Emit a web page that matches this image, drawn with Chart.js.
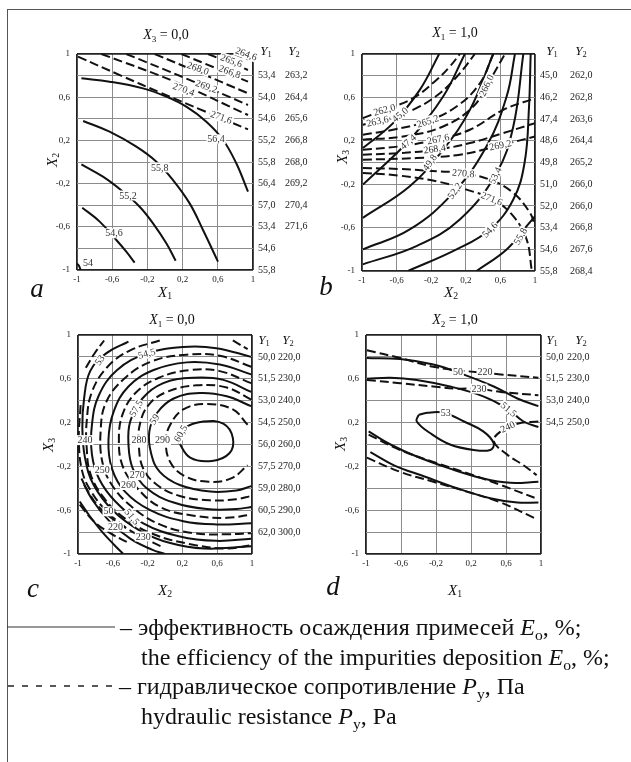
<!DOCTYPE html>
<html>
<head>
<meta charset="utf-8">
<script src="https://cdn.jsdelivr.net/npm/chart.js@4.4.0/dist/chart.umd.min.js"></script>
<style>
  body { margin: 0; background: #fff; font-family: "Liberation Serif", "Times New Roman", serif; color: #111; }
  #page { position: relative; width: 631px; height: 762px; overflow: hidden; }
  #frame { position: absolute; left: 7px; top: 9px; width: 700px; height: 800px;
           border-left: 1.5px solid #555; border-top: 1.5px solid #555; }
  canvas { position: absolute; }
  .t { position: absolute; white-space: nowrap; line-height: 1; }
  .c { transform: translate(-50%, -50%); }
  .l { transform: translate(0, -50%); }
  .r { transform: translate(-50%, -50%) rotate(-90deg); }
  .t i { font-style: italic; }
  .t sub { font-size: 65%; vertical-align: -0.3em; line-height: 0; }
  svg { position: absolute; left: 0; top: 0; }
</style>
</head>
<body>
<div id="page">
  <div id="frame"></div>
  <canvas id="pa"></canvas>
  <canvas id="pb"></canvas>
  <canvas id="pc"></canvas>
  <canvas id="pd"></canvas>
  <svg width="631" height="762">
    <line x1="7" y1="627" x2="115" y2="627" stroke="#333" stroke-width="1.2"/>
    <line x1="8" y1="686" x2="112" y2="686" stroke="#222" stroke-width="1.6" stroke-dasharray="6,8"/>
  </svg>
</div>
<script>
// shared tick texts (ascending order, as the library generates them)
const xTickText = ['-1', '-0,6', '-0,2', '0,2', '0,6', '1'];
const yTickText = ['-1', '', '-0,6', '', '-0,2', '', '0,2', '', '0,6', '', '1'];

// right-hand columns, rows from X = 1 (top) down to X = -1
const aY1 = ['', '53,4', '54,0', '54,6', '55,2', '55,8', '56,4', '57,0', '53,4', '54,6', '55,8'];
const aY2 = ['', '263,2', '264,4', '265,6', '266,8', '268,0', '269,2', '270,4', '271,6', '', ''];
const bY1 = ['', '45,0', '46,2', '47,4', '48,6', '49,8', '51,0', '52,0', '53,4', '54,6', '55,8'];
const bY2 = ['', '262,0', '262,8', '263,6', '264,4', '265,2', '266,0', '266,0', '266,8', '267,6', '268,4'];
const cY1 = ['', '50,0', '51,5', '53,0', '54,5', '56,0', '57,5', '59,0', '60,5', '62,0', ''];
const cY2 = ['', '220,0', '230,0', '240,0', '250,0', '260,0', '270,0', '280,0', '290,0', '300,0', ''];
const dY1 = ['', '50,0', '51,5', '53,0', '54,5', '', '', '', '', '', ''];
const dY2 = ['', '220,0', '230,0', '240,0', '250,0', '', '', '', '', '', ''];

// panel a: X3 = 0,0  (x = X1, y = X2)
const aSolid = [
  [[-0.95, 0.775], [-0.63, 0.744], [-0.25, 0.682], [0.015, 0.605], [0.242, 0.512], [0.47, 0.373], [0.66, 0.204], [0.81, -0.012], [0.943, -0.275]],
  [[-0.93, 0.38], [-0.63, 0.281], [-0.326, 0.142], [-0.098, 0.003], [0.091, -0.167], [0.28, -0.383], [0.432, -0.63], [0.602, -0.923]],
  [[-0.95, -0.022], [-0.705, -0.136], [-0.477, -0.275], [-0.288, -0.414], [-0.136, -0.568], [0.015, -0.753], [0.121, -0.914]],
  [[-0.94, -0.423], [-0.742, -0.552], [-0.553, -0.722], [-0.44, -0.83], [-0.345, -0.932]],
  [[-1, -0.94], [-0.975, -0.965], [-0.96, -1]]
];
const aDashed = [
  [[-0.989, 0.975], [-0.5, 0.8], [-0.061, 0.645], [0.45, 0.47], [0.943, 0.302]],
  [[-0.723, 1.0], [0.11, 0.744], [0.943, 0.435]],
  [[-0.44, 1.0], [0.25, 0.77], [0.943, 0.528]],
  [[-0.117, 1.0], [0.41, 0.82], [0.943, 0.636]],
  [[0.186, 1.0], [0.56, 0.875], [0.943, 0.744]],
  [[0.489, 1.0], [0.72, 0.925], [0.943, 0.852]],
  [[0.79, 1.0], [0.943, 0.95]]
];
const aLabels = [
  ['56,4', 0.58, 0.21, 0], ['55,8', -0.06, -0.05, 0], ['55,2', -0.42, -0.31, 0], ['54,6', -0.58, -0.66, 0], ['54', -0.875, -0.93, 0],
  ['271,6', 0.64, 0.414, 20], ['270,4', 0.212, 0.673, 20], ['269,2', 0.47, 0.70, 20], ['268,0', 0.375, 0.867, 20],
  ['266,8', 0.735, 0.836, 20], ['265,6', 0.754, 0.938, 20], ['264,6', 0.924, 1.0, 20]
];

// panel b: X1 = 1,0  (x = X2, y = X3)
const bSolid = [
  [[-0.99, 0.133], [-0.641, 0.363], [-0.332, 0.669], [-0.108, 1]],
  [[-0.99, -0.204], [-0.448, 0.21], [-0.062, 0.608], [0.189, 1]],
  [[-0.99, -0.51], [-0.448, -0.219], [-0.062, 0.118], [0.247, 0.485], [0.517, 1]],
  [[-0.99, -0.801], [-0.448, -0.617], [0.054, -0.28], [0.44, 0.149], [0.672, 0.608], [0.768, 1]],
  [[-0.99, -0.939], [-0.371, -0.77], [0.131, -0.525], [0.556, -0.096], [0.749, 0.332], [0.865, 1]],
  [[-0.467, -1], [0.093, -0.801], [0.479, -0.617], [0.749, -0.341], [0.88, 0.0], [0.93, 0.5], [0.95, 1]],
  [[0.324, -1], [0.672, -0.801], [0.903, -0.587], [1, -0.495]]
];
const bDashed = [
  [[-0.99, 0.409], [-0.718, 0.492], [-0.409, 0.593], [-0.139, 0.761], [0.015, 0.884], [0.131, 1]],
  [[-0.99, 0.348], [-0.68, 0.409], [-0.371, 0.501], [-0.1, 0.639], [0.131, 0.822], [0.305, 1]],
  [[-0.99, 0.256], [-0.641, 0.302], [-0.255, 0.378], [0.093, 0.516], [0.363, 0.73], [0.517, 1]],
  [[-0.99, 0.21], [-0.525, 0.24], [-0.062, 0.332], [0.286, 0.516], [0.479, 0.761], [0.653, 1]],
  [[-0.99, 0.118], [-0.564, 0.149], [-0.139, 0.21], [0.247, 0.302], [0.633, 0.485], [1, 0.593]],
  [[-0.99, 0.072], [-0.564, 0.087], [-0.139, 0.118], [0.247, 0.179], [0.633, 0.271], [1, 0.363]],
  [[-0.99, 0.026], [-0.371, 0.041], [0.131, 0.072], [0.556, 0.149], [1, 0.24]],
  [[-0.99, -0.051], [-0.564, -0.06], [-0.139, -0.081], [0.131, -0.096], [0.479, -0.158], [0.749, -0.28], [0.942, -0.464], [1, -0.587]],
  [[-0.99, -0.096], [-0.564, -0.121], [-0.139, -0.173], [0.208, -0.25], [0.517, -0.341], [0.749, -0.495], [0.903, -0.709], [0.961, -0.985]]
];
const bLabels = [
  ['45,0', -0.56, 0.44, -40], ['47,4', -0.467, 0.19, -40], ['49,8', -0.216, 0.0, -55], ['52,2', 0.073, -0.26, -55],
  ['53,4', 0.54, -0.12, -65], ['54,6', 0.479, -0.62, -45], ['55,8', 0.83, -0.68, -60],
  ['262,0', -0.74, 0.485, -15], ['263,6', -0.82, 0.38, -12], ['265,2', -0.24, 0.38, -18], ['266,0', 0.44, 0.71, -65],
  ['267,6', -0.12, 0.215, -12], ['268,4', -0.16, 0.125, -8], ['269,2', 0.6, 0.16, -12], ['270,8', 0.17, -0.10, 5], ['271,6', 0.5, -0.335, 22]
];

// panel c: X1 = 0,0  (x = X2, y = X3)
const cSolid = [
  [[0.15, 0.03], [0.23, 0.15], [0.44, 0.21], [0.67, 0.19], [0.78, 0.06], [0.74, -0.08], [0.54, -0.15], [0.29, -0.12], [0.15, 0.03]],
  [[0.99, 0.35], [0.71, 0.44], [0.40, 0.47], [0.10, 0.42], [-0.09, 0.29], [-0.18, 0.12], [-0.16, -0.08], [-0.06, -0.25], [0.17, -0.37], [0.52, -0.43], [0.82, -0.42], [0.99, -0.38]],
  [[0.99, 0.48], [0.67, 0.59], [0.33, 0.61], [-0.02, 0.56], [-0.26, 0.42], [-0.40, 0.21], [-0.42, 0.0], [-0.37, -0.22], [-0.21, -0.40], [0.10, -0.53], [0.48, -0.59], [0.82, -0.59], [0.99, -0.57]],
  [[0.99, 0.64], [0.63, 0.73], [0.25, 0.75], [-0.13, 0.68], [-0.42, 0.53], [-0.59, 0.30], [-0.65, 0.04], [-0.61, -0.22], [-0.46, -0.43], [-0.17, -0.60], [0.21, -0.70], [0.59, -0.73], [0.99, -0.72]],
  [[0.99, 0.80], [0.59, 0.88], [0.21, 0.89], [-0.21, 0.83], [-0.55, 0.68], [-0.76, 0.45], [-0.84, 0.18], [-0.84, -0.09], [-0.76, -0.31], [-0.57, -0.52], [-0.25, -0.72], [0.17, -0.84], [0.59, -0.88], [0.99, -0.86]],
  [[-0.42, 0.94], [-0.68, 0.83], [-0.86, 0.67], [-0.93, 0.42], [-0.95, 0.15], [-0.92, -0.12], [-0.82, -0.37], [-0.59, -0.61], [-0.28, -0.79], [0.06, -0.90], [0.45, -0.95], [0.99, -0.93]],
  [[-0.96, -0.31], [-0.84, -0.50], [-0.64, -0.70], [-0.40, -0.86], [-0.15, -0.96], [0.0, -1.0]],
  [[-0.98, -0.52], [-0.86, -0.66], [-0.72, -0.80], [-0.58, -0.92], [-0.48, -1.0]]
];
const cDashed = [
  [[0.95, 0.18], [0.78, 0.32], [0.48, 0.37], [0.21, 0.32], [0.06, 0.18], [0.01, 0.03], [0.06, -0.16], [0.23, -0.29], [0.50, -0.34], [0.76, -0.31], [0.95, -0.19]],
  [[0.99, 0.41], [0.71, 0.52], [0.36, 0.54], [0.02, 0.48], [-0.19, 0.36], [-0.29, 0.18], [-0.30, -0.02], [-0.25, -0.22], [-0.09, -0.37], [0.17, -0.47], [0.52, -0.51], [0.82, -0.50], [0.99, -0.47]],
  [[0.99, 0.56], [0.63, 0.67], [0.29, 0.68], [-0.07, 0.61], [-0.34, 0.47], [-0.49, 0.27], [-0.53, 0.04], [-0.49, -0.19], [-0.34, -0.38], [-0.06, -0.57], [0.33, -0.65], [0.71, -0.67], [0.99, -0.64]],
  [[0.99, 0.71], [0.63, 0.81], [0.25, 0.82], [-0.15, 0.76], [-0.47, 0.60], [-0.68, 0.38], [-0.74, 0.12], [-0.72, -0.16], [-0.61, -0.37], [-0.38, -0.57], [-0.06, -0.73], [0.33, -0.81], [0.71, -0.82], [0.99, -0.81]],
  [[-0.06, 0.95], [-0.40, 0.86], [-0.66, 0.71], [-0.84, 0.48], [-0.90, 0.21], [-0.90, -0.03], [-0.86, -0.26], [-0.72, -0.47], [-0.47, -0.67], [-0.13, -0.82], [0.29, -0.91], [0.71, -0.95], [0.99, -0.92]],
  [[-0.97, 0.36], [-0.99, 0.04], [-0.95, -0.25], [-0.84, -0.44], [-0.66, -0.62], [-0.45, -0.76]],
  [[-0.93, -0.37], [-0.76, -0.57], [-0.51, -0.73], [-0.25, -0.85], [-0.02, -0.94]],
  [[-0.98, -0.55], [-0.82, -0.70], [-0.63, -0.81], [-0.44, -0.89]],
  [[-0.91, 0.70], [-0.82, 0.82], [-0.70, 0.95]],
  [[0.78, 0.95], [0.95, 0.87]]
];
const cLabels = [
  ['53', -0.75, 0.77, -55], ['54,5', -0.21, 0.83, -15], ['57,5', -0.33, 0.33, -60], ['59', -0.12, 0.23, -55], ['60,5', 0.18, 0.10, -60],
  ['240', -0.92, 0.04, 0], ['280', -0.30, 0.04, 0], ['290', -0.03, 0.04, 0], ['250', -0.72, -0.23, 0], ['270', -0.32, -0.28, 0],
  ['260', -0.42, -0.37, 0], ['50', -0.65, -0.61, 0], ['51,5', -0.38, -0.66, 50], ['220', -0.57, -0.75, 0], ['230', -0.25, -0.84, 0]
];

// panel d: X2 = 1,0  (x = X1, y = X3)
const dSolid = [
  [[-0.99, 0.79], [-0.61, 0.78], [-0.23, 0.73], [0.08, 0.65], [0.46, 0.53], [0.73, 0.42], [0.97, 0.35]],
  [[-0.99, 0.60], [-0.72, 0.61], [-0.42, 0.59], [-0.04, 0.53], [0.34, 0.44], [0.61, 0.33], [0.80, 0.21], [0.97, 0.16]],
  [[-0.40, 0.27], [-0.30, 0.29], [-0.11, 0.29], [0.12, 0.21], [0.34, 0.12], [0.46, 0.01], [0.42, -0.05], [0.23, -0.05], [-0.04, 0.0], [-0.26, 0.10], [-0.42, 0.21], [-0.40, 0.27]],
  [[-0.97, 0.12], [-0.72, 0.0], [-0.42, -0.11], [-0.04, -0.22], [0.34, -0.31], [0.65, -0.35], [0.97, -0.34]],
  [[-0.95, -0.07], [-0.68, -0.19], [-0.34, -0.29], [0.04, -0.40], [0.42, -0.49], [0.73, -0.53], [0.97, -0.53]]
];
const dDashed = [
  [[-0.99, 0.86], [-0.61, 0.79], [-0.23, 0.71], [0.15, 0.67], [0.54, 0.64], [0.97, 0.61]],
  [[-0.99, 0.59], [-0.61, 0.56], [-0.23, 0.53], [0.04, 0.51], [0.27, 0.51], [0.54, 0.48], [0.97, 0.45]],
  [[0.97, 0.21], [0.73, 0.19], [0.54, 0.12], [0.46, 0.03], [0.61, -0.09], [0.80, -0.19], [0.95, -0.28]],
  [[-0.97, 0.09], [-0.61, -0.05], [-0.23, -0.16], [0.15, -0.26], [0.54, -0.37], [0.97, -0.50]],
  [[-0.99, -0.12], [-0.61, -0.25], [-0.23, -0.34], [0.15, -0.43], [0.54, -0.53], [0.92, -0.67]]
];
const dLabels = [
  ['50', 0.05, 0.66, 0], ['220', 0.36, 0.66, 0], ['230', 0.29, 0.51, 0], ['53', -0.09, 0.29, 0],
  ['51,5', 0.63, 0.32, 40], ['240', 0.62, 0.16, -25]
];

const serif = '"Liberation Serif", "Times New Roman", serif';

function contourLine(points, dash) {
  return {
    data: points.map(p => ({ x: p[0], y: p[1] })),
    showLine: true,
    borderColor: '#111',
    borderWidth: 2,
    borderDash: dash,
    pointRadius: 0,
    tension: 0.4
  };
}

function labelPlugin(items) {
  return {
    id: 'contourLabels',
    afterDatasetsDraw(chart) {
      const ctx = chart.ctx, xs = chart.scales.x, ys = chart.scales.y;
      ctx.save();
      ctx.font = '10px ' + serif;
      ctx.textAlign = 'center';
      ctx.textBaseline = 'middle';
      items.forEach(([txt, vx, vy, ang]) => {
        ctx.save();
        ctx.translate(xs.getPixelForValue(vx), ys.getPixelForValue(vy));
        ctx.rotate(ang * Math.PI / 180);
        const w = ctx.measureText(txt).width;
        ctx.fillStyle = '#fff';
        ctx.fillRect(-w / 2 - 1, -5, w + 2, 10);
        ctx.fillStyle = '#333';
        ctx.fillText(txt, 0, 0.5);
        ctx.restore();
      });
      ctx.restore();
    }
  };
}

const edge = v => Math.abs(Math.abs(v) - 1) < 1e-6;

function panel(id, box, solid, dashed, labels, col1, col2) {
  const cv = document.getElementById(id);
  cv.width = box.w; cv.height = box.h;
  cv.style.left = box.left + 'px'; cv.style.top = box.top + 'px';
  const datasets = solid.map(c => contourLine(c, []))
    .concat(dashed.map(c => contourLine(c, [9, 4])));
  const grid = {
    drawTicks: false,
    color: c => edge(c.tick.value) ? '#222' : '#8c8c8c',
    lineWidth: c => edge(c.tick.value) ? 1.8 : 1
  };
  const colAxis = (arr, width, pad) => ({
    type: 'linear', position: 'right', min: -1, max: 1,
    afterFit: s => { s.width = width; },
    grid: { display: false, drawTicks: false },
    border: { display: false },
    ticks: { stepSize: 0.2, padding: pad, color: '#222', font: { family: serif, size: 10 },
             callback: (v, i) => arr[10 - i] }
  });
  new Chart(cv, {
    type: 'scatter',
    data: { datasets: datasets },
    options: {
      animation: false,
      responsive: false,
      events: [],
      layout: { padding: { top: 14, left: 0, right: 0, bottom: 0 } },
      plugins: { legend: { display: false }, tooltip: { enabled: false } },
      scales: {
        x: {
          type: 'linear', min: -1, max: 1,
          afterFit: s => { s.height = 22; },
          grid: grid, border: { display: false },
          ticks: { stepSize: 0.4, autoSkip: false, maxRotation: 0, padding: 4, color: '#222',
                   font: { family: serif, size: 9 }, callback: (v, i) => xTickText[i] }
        },
        y: {
          type: 'linear', min: -1, max: 1,
          afterFit: s => { s.width = box.wl; },
          grid: grid, border: { display: false },
          ticks: { stepSize: 0.2, autoSkip: false, padding: 7, color: '#222',
                   font: { family: serif, size: 9 }, callback: (v, i) => yTickText[i] }
        },
        c1: colAxis(col1, box.wr1, box.p1),
        c2: colAxis(col2, box.wr2, 0)
      }
    },
    plugins: [labelPlugin(labels)]
  });
}

panel('pa', { left: 30, top: 40, w: 290, h: 252, wl: 47, wr1: 32, p1: 5, wr2: 35 }, aSolid, aDashed, aLabels, aY1, aY2);
panel('pb', { left: 320, top: 40, w: 295, h: 253, wl: 42, wr1: 35, p1: 5, wr2: 45 }, bSolid, bDashed, bLabels, bY1, bY2);
panel('pc', { left: 30, top: 321, w: 288, h: 255, wl: 48, wr1: 26, p1: 6, wr2: 40 }, cSolid, cDashed, cLabels, cY1, cY2);
panel('pd', { left: 320, top: 321, w: 292, h: 255, wl: 46, wr1: 26, p1: 5, wr2: 45 }, dSolid, dDashed, dLabels, dY1, dY2);

// text around the panels: [html, x, y, size, align class]
const texts = [
  ['<i>X</i><sub>3</sub> = 0,0', 166, 35, 14, 'c'],
  ['<i>X</i><sub>1</sub> = 1,0', 455, 33, 14, 'c'],
  ['<i>X</i><sub>1</sub> = 0,0', 172, 320, 14, 'c'],
  ['<i>X</i><sub>2</sub> = 1,0', 455, 320, 14, 'c'],
  ['<i>Y</i><sub>1</sub>', 266, 50, 13, 'c'], ['<i>Y</i><sub>2</sub>', 294, 50, 13, 'c'],
  ['<i>Y</i><sub>1</sub>', 552, 50, 13, 'c'], ['<i>Y</i><sub>2</sub>', 581, 50, 13, 'c'],
  ['<i>Y</i><sub>1</sub>', 264, 339, 13, 'c'], ['<i>Y</i><sub>2</sub>', 288, 339, 13, 'c'],
  ['<i>Y</i><sub>1</sub>', 552, 339, 13, 'c'], ['<i>Y</i><sub>2</sub>', 581, 339, 13, 'c'],
  ['<i>X</i><sub>2</sub>', 52, 160, 15, 'r'], ['<i>X</i><sub>3</sub>', 342, 157, 15, 'r'],
  ['<i>X</i><sub>3</sub>', 48, 445, 15, 'r'], ['<i>X</i><sub>3</sub>', 340, 444, 15, 'r'],
  ['<i>X</i><sub>1</sub>', 165, 292, 15, 'c'], ['<i>X</i><sub>2</sub>', 451, 292, 15, 'c'],
  ['<i>X</i><sub>2</sub>', 165, 590, 15, 'c'], ['<i>X</i><sub>1</sub>', 455, 590, 15, 'c'],
  ['<i>a</i>', 37, 288, 27, 'c'], ['<i>b</i>', 326, 286, 27, 'c'],
  ['<i>c</i>', 33, 588, 27, 'c'], ['<i>d</i>', 333, 586, 27, 'c'],
  ['– эффективность осаждения примесей <i>E</i><sub>о</sub>, %;', 120, 627, 24, 'l'],
  ['the efficiency of the impurities deposition <i>E</i><sub>o</sub>, %;', 141, 657, 24, 'l'],
  ['– гидравлическое сопротивление <i>P</i><sub>y</sub>, Па', 119, 686, 24, 'l'],
  ['hydraulic resistance <i>P</i><sub>y</sub>, Pa', 141, 716, 24, 'l']
];
const page = document.getElementById('page');
texts.forEach(([html, x, y, size, cls]) => {
  const d = document.createElement('div');
  d.className = 't ' + cls;
  d.innerHTML = html;
  d.style.left = x + 'px';
  d.style.top = y + 'px';
  d.style.fontSize = size + 'px';
  page.appendChild(d);
});
</script>
</body>
</html>
